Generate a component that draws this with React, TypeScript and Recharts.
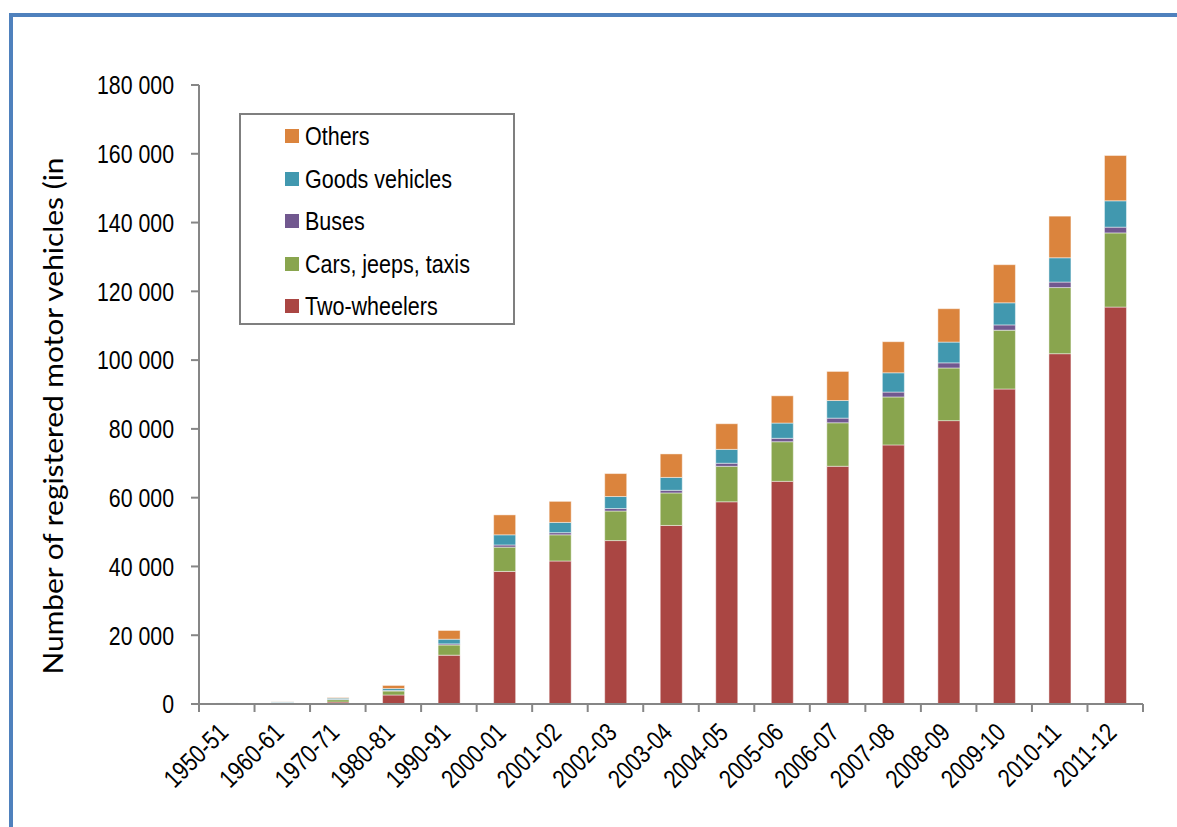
import React from 'react';
import { BarChart, Bar, XAxis, YAxis, Legend } from 'recharts';

const categories = ['1950-51', '1960-61', '1970-71', '1980-81', '1990-91', '2000-01', '2001-02', '2002-03', '2003-04', '2004-05', '2005-06', '2006-07', '2007-08', '2008-09', '2009-10', '2010-11', '2011-12'];
const twoWheelers = [27, 88, 576, 2618, 14200, 38556, 41581, 47519, 51922, 58799, 64743, 69129, 75336, 82402, 91598, 101865, 115419];
const cars = [159, 310, 682, 1160, 2954, 7058, 7613, 8599, 9451, 10320, 11526, 12649, 13950, 15313, 17109, 19231, 21568];
const buses = [34, 57, 94, 162, 331, 634, 635, 721, 768, 892, 992, 1350, 1427, 1486, 1527, 1604, 1677];
const goods = [82, 168, 343, 554, 1356, 2948, 2974, 3492, 3749, 4031, 4436, 5119, 5601, 6041, 6432, 7064, 7658];
const others = [4, 42, 170, 897, 2533, 5795, 6121, 6676, 6828, 7457, 7921, 8460, 9039, 9710, 11080, 12102, 13169];
const yTicks = [0, 20000, 40000, 60000, 80000, 100000, 120000, 140000, 160000, 180000];

const series = [
  { key: 'tw', name: 'Two-wheelers', color: '#AA4643' },
  { key: 'cars', name: 'Cars, jeeps, taxis', color: '#89A54E' },
  { key: 'buses', name: 'Buses', color: '#71588F' },
  { key: 'goods', name: 'Goods vehicles', color: '#4198AF' },
  { key: 'others', name: 'Others', color: '#DB843D' },
];

const data = categories.map((c, i) => ({
  period: c,
  tw: twoWheelers[i],
  cars: cars[i],
  buses: buses[i],
  goods: goods[i],
  others: others[i],
}));

const CHART_W = 1177;
const CHART_H = 827;
const MARGIN = { top: 85, right: 34, bottom: 22, left: 119 };
const Y_AXIS_W = 80;
const PLOT_W = CHART_W - MARGIN.left - Y_AXIS_W - MARGIN.right;

const SANS = '"Liberation Sans", Arial, sans-serif';
const AXIS = '#868686';
const NARROW_SCALE = 0.82;

const fmt = (v: number) => (v === 0 ? '0' : `${Math.floor(v / 1000)} ${String(v % 1000).padStart(3, '0')}`);

const YTick = (props: any) => {
  const { x, y, payload } = props;
  return (
    <text
      x={0}
      y={0}
      dy="0.36em"
      textAnchor="end"
      transform={`translate(${x} ${y}) scale(${NARROW_SCALE} 1)`}
      fontFamily={SANS}
      fontSize={26}
      fill="#000"
    >
      {fmt(payload.value)}
    </text>
  );
};

const XTick = (props: any) => {
  const { x, y, payload, index } = props;
  const count = props.visibleTicksCount || categories.length;
  const half = PLOT_W / count / 2;
  const ax = x + 3;
  const ay = y + 30;
  return (
    <g>
      <line x1={x - half} x2={x - half} y1={y} y2={y + 8} stroke={AXIS} strokeWidth={2} />
      {index === count - 1 && <line x1={x + half} x2={x + half} y1={y} y2={y + 8} stroke={AXIS} strokeWidth={2} />}
      <text
        x={0}
        y={0}
        textAnchor="end"
        transform={`translate(${ax} ${ay}) rotate(-45) scale(${NARROW_SCALE} 1)`}
        fontFamily={SANS}
        fontSize={26}
        fill="#000"
      >
        {payload.value}
      </text>
    </g>
  );
};

const LegendBox = () => {
  const items = [...series].reverse();
  return (
    <div
      style={{
        width: 276,
        height: 212,
        boxSizing: 'border-box',
        border: '2px solid #7f7f7f',
        background: '#fff',
        paddingTop: 0,
      }}
    >
      {items.map((s) => (
        <div key={s.key} style={{ display: 'flex', alignItems: 'center', height: 42.5, paddingLeft: 44 }}>
          <div style={{ width: 14, height: 14, background: s.color, marginRight: 6, flex: 'none' }} />
          <span
            style={{
              fontFamily: SANS,
              fontSize: 25,
              color: '#000',
              lineHeight: '42px',
              display: 'inline-block',
              transform: 'scaleX(0.86)',
              transformOrigin: 'left center',
              whiteSpace: 'nowrap',
            }}
          >
            {s.name}
          </span>
        </div>
      ))}
    </div>
  );
};

export default function App() {
  return (
    <div style={{ position: 'absolute', left: 0, top: 0, width: 1177, height: 827, overflow: 'hidden', background: '#fff' }}>
      <div
        style={{
          position: 'absolute',
          left: 9,
          top: 13,
          width: 1168,
          height: 814,
          boxSizing: 'border-box',
          borderLeft: '4px solid #4F81BD',
          borderTop: '4px solid #4F81BD',
        }}
      />
      <div style={{ position: 'absolute', left: 0, top: 0 }}>
        <BarChart width={CHART_W} height={CHART_H} data={data} margin={MARGIN} barSize={22}>
          <XAxis
            dataKey="period"
            height={101}
            interval={0}
            tickLine={false}
            axisLine={{ stroke: AXIS, strokeWidth: 2 }}
            tick={<XTick />}
            tickSize={0}
            tickMargin={0}
          />
          <YAxis
            width={Y_AXIS_W}
            domain={[0, 180000]}
            ticks={yTicks}
            interval={0}
            tickSize={8}
            tickMargin={17}
            tickLine={{ stroke: AXIS, strokeWidth: 2 }}
            axisLine={{ stroke: AXIS, strokeWidth: 2 }}
            tick={<YTick />}
            label={{
              content: () => (
                <text
                  x={52}
                  y={416}
                  transform="rotate(-90 52 416)"
                  textAnchor="middle"
                  dominantBaseline="central"
                  fontFamily="Lato, 'Open Sans', sans-serif"
                  fontSize={27}
                  textLength={517}
                  lengthAdjust="spacingAndGlyphs"
                  fill="#000"
                >
                  Number of registered motor vehicles (in
                </text>
              ),
            }}
          />
          <Legend
            layout="horizontal"
            align="center"
            verticalAlign="middle"
            content={<LegendBox />}
            wrapperStyle={{ left: 239, top: 113, width: 276, height: 212 }}
          />
          {series.map((s) => (
            <Bar
              key={s.key}
              dataKey={s.key}
              name={s.name}
              stackId="a"
              fill={s.color}
              stroke="rgba(255,255,255,0.45)"
              strokeWidth={1}
              isAnimationActive={false}
            />
          ))}
        </BarChart>
      </div>
    </div>
  );
}
